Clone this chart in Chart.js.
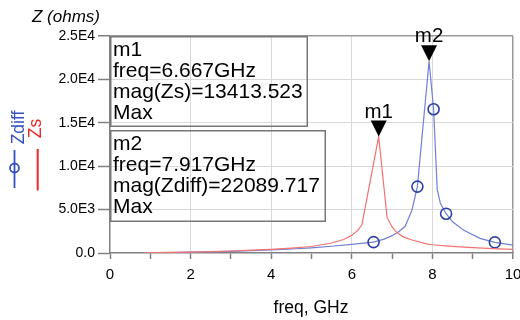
<!DOCTYPE html>
<html>
<head>
<meta charset="utf-8">
<script src="https://cdn.jsdelivr.net/npm/chart.js@4.4.1/dist/chart.umd.min.js"></script>
<style>
  body { margin: 0; background: #fff; }
  #chart { display: block; }
</style>
</head>
<body>
<canvas id="chart" width="520" height="320"></canvas>
<script>
// Zs trace (red), freq in GHz, magnitude in ohms
const zsFreq = [0.85, 1.5, 2.0, 2.5, 3.0, 3.5, 4.0, 4.5, 5.0, 5.5, 5.8, 6.0, 6.15, 6.25,
                6.667, 6.875, 7.0, 7.12, 7.3, 7.5, 7.85, 8.0, 8.4, 9.0, 9.5, 10.0];
const zsVals = [30, 70, 110, 160, 230, 320, 420, 560, 750, 1150, 1550, 2050, 2600, 3250,
                13413.523, 4100, 3000, 2350, 1800, 1500, 1050, 950, 800, 620, 500, 420];

// Zdiff trace (blue)
const zdFreq = [0.85, 1.5, 2.0, 2.5, 3.0, 3.5, 4.0, 4.5, 5.0, 5.5, 6.0, 6.54, 6.8, 7.0, 7.16,
                7.32, 7.49, 7.628, 7.917, 8.03, 8.12, 8.2, 8.34, 8.5, 8.77, 9.18, 9.55, 10.0];
const zdVals = [20, 50, 90, 130, 190, 260, 350, 460, 600, 780, 1000, 1250, 1600, 2000, 2450,
                3050, 4900, 7650, 22089.717, 16560, 7300, 5700, 4530, 3600, 2650, 1690, 1220, 900];
// points of the Zdiff trace that carry a circle symbol
const zdSymbolFreq = [6.54, 7.628, 8.03, 8.34, 9.55];

// markers
const markerNames = ['m1', 'm2'];
const markerTrace = ['Zs', 'Zdiff'];
const markerFreq = [6.667, 7.917];
const markerVals = [13413.523, 22089.717];

const xTicks = [0, 2, 4, 6, 8, 10];
const yTicks = [0, 5000, 10000, 15000, 20000, 25000];

const FONT = '"Liberation Sans", Arial, sans-serif';
const BLUE_LINE = '#7080d4';
const BLUE_SYM = '#2c40a8';
const RED_LINE = '#f27272';
const GRID = '#d9d9d9';
const AXIS = '#808080';

function fmtY(v){
  if(v === 0) return '0.0';
  const e = Math.floor(Math.log10(v));
  return (v / Math.pow(10, e)).toFixed(1) + 'E' + e;
}

const boxes = [
  { x: 110, y: 36, w: 198, h: 91 },
  { x: 110, y: 130, w: 216, h: 92 }
];

const decor = {
  id: 'decor',
  afterDraw(chart){
    const { ctx, scales: { x, y } } = chart;
    ctx.save();

    // marker info boxes
    markerNames.forEach((n, i) => {
      const b = boxes[i];
      ctx.strokeStyle = '#777';
      ctx.lineWidth = 1.5;
      ctx.strokeRect(b.x + 0.75, b.y + 0.75, b.w - 1.5, b.h - 1.5);
      ctx.fillStyle = '#000';
      ctx.font = '21px ' + FONT;
      ctx.textAlign = 'left';
      ctx.textBaseline = 'alphabetic';
      const lines = [n, 'freq=' + markerFreq[i].toFixed(3) + 'GHz',
        'mag(' + markerTrace[i] + ')=' + markerVals[i].toFixed(3), 'Max'];
      lines.forEach((t, k) => ctx.fillText(t, b.x + 3, b.y + 19.5 + k * 21.2));
    });

    // marker triangles
    markerNames.forEach((n, i) => {
      const px = x.getPixelForValue(markerFreq[i]);
      const py = y.getPixelForValue(markerVals[i]);
      ctx.fillStyle = '#000';
      ctx.beginPath();
      ctx.moveTo(px, py);
      ctx.lineTo(px - 8, py - 16);
      ctx.lineTo(px + 8, py - 16);
      ctx.closePath();
      ctx.fill();
      ctx.font = '20.5px ' + FONT;
      ctx.textAlign = 'center';
      ctx.fillText(n, px, py - 19);
    });

    // y title
    ctx.fillStyle = '#000';
    ctx.font = 'italic 17px ' + FONT;
    ctx.textAlign = 'left';
    ctx.fillText('Z (ohms)', 32, 21.5);

    // x title
    ctx.font = '17.5px ' + FONT;
    ctx.textAlign = 'center';
    ctx.fillText('freq, GHz', 311, 313);

    // vertical legend
    ctx.font = '17.5px ' + FONT;
    ctx.textBaseline = 'middle';
    ctx.save();
    ctx.translate(19, 127.5);
    ctx.rotate(-Math.PI / 2);
    ctx.fillStyle = '#3550c0';
    ctx.fillText('Zdiff', 0, 0);
    ctx.restore();
    ctx.save();
    ctx.translate(36, 128.5);
    ctx.rotate(-Math.PI / 2);
    ctx.fillStyle = '#f02828';
    ctx.fillText('Zs', 0, 0);
    ctx.restore();

    ctx.strokeStyle = '#3550c0';
    ctx.lineWidth = 1.8;
    ctx.beginPath(); ctx.moveTo(14.5, 150); ctx.lineTo(14.5, 188); ctx.stroke();
    ctx.beginPath(); ctx.arc(14.5, 168, 4.5, 0, Math.PI * 2); ctx.stroke();
    ctx.strokeStyle = '#f02828';
    ctx.lineWidth = 2;
    ctx.beginPath(); ctx.moveTo(37.7, 149); ctx.lineTo(37.7, 190.5); ctx.stroke();

    ctx.restore();
  }
};

new Chart(document.getElementById('chart'), {
  type: 'line',
  data: {
    datasets: [
      {
        label: 'Zs',
        data: zsFreq.map((f, i) => ({ x: f, y: zsVals[i] })),
        borderColor: RED_LINE,
        borderWidth: 1.2,
        pointRadius: 0,
        tension: 0
      },
      {
        label: 'Zdiff',
        data: zdFreq.map((f, i) => ({ x: f, y: zdVals[i] })),
        borderColor: BLUE_LINE,
        borderWidth: 1.2,
        pointRadius: c => zdSymbolFreq.includes(zdFreq[c.dataIndex]) ? 5.5 : 0,
        pointBorderColor: BLUE_SYM,
        pointBorderWidth: 1.6,
        pointBackgroundColor: 'rgba(0,0,0,0)',
        tension: 0
      }
    ]
  },
  options: {
    responsive: false,
    animation: false,
    devicePixelRatio: 1,
    layout: { padding: { top: 36, right: 7, left: 0, bottom: 0 } },
    plugins: { legend: { display: false }, tooltip: { enabled: false } },
    scales: {
      x: {
        type: 'linear', min: 0, max: 10,
        afterBuildTicks: s => { s.ticks = [0,1,2,3,4,5,6,7,8,9,10].map(v => ({ value: v })); },
        ticks: {
          autoSkip: false, maxRotation: 0,
          callback: v => xTicks.includes(v) ? String(v) : '',
          color: '#000', font: { family: FONT, size: 15 }, padding: 7
        },
        grid: {
          color: c => c.tick && c.tick.value === 10 ? '#999' : (c.tick && xTicks.includes(c.tick.value) && c.tick.value !== 0 ? GRID : 'rgba(0,0,0,0)'),
          lineWidth: c => c.tick && c.tick.value === 10 ? 1.5 : 1,
          tickColor: AXIS, tickLength: 6, tickWidth: 1.5
        },
        border: { color: AXIS, width: 1.5 },
        afterFit: s => { s.height = 67; s.paddingLeft = 0; s.paddingRight = 0; }
      },
      y: {
        min: 0, max: 25000,
        afterBuildTicks: s => { s.ticks = yTicks.map(v => ({ value: v })); },
        ticks: {
          callback: v => fmtY(v),
          color: '#000', font: { family: FONT, size: 14 }, padding: 3
        },
        grid: {
          color: c => c.tick && c.tick.value === 25000 ? '#999' : (c.tick && c.tick.value === 0 ? 'rgba(0,0,0,0)' : GRID),
          lineWidth: c => c.tick && c.tick.value === 25000 ? 1.5 : 1,
          tickColor: AXIS, tickLength: 12, tickWidth: 1.5
        },
        border: { color: AXIS, width: 1.5 },
        afterFit: s => { s.width = 110; s.paddingTop = 0; s.paddingBottom = 0; }
      }
    }
  },
  plugins: [decor]
});
</script>
</body>
</html>
